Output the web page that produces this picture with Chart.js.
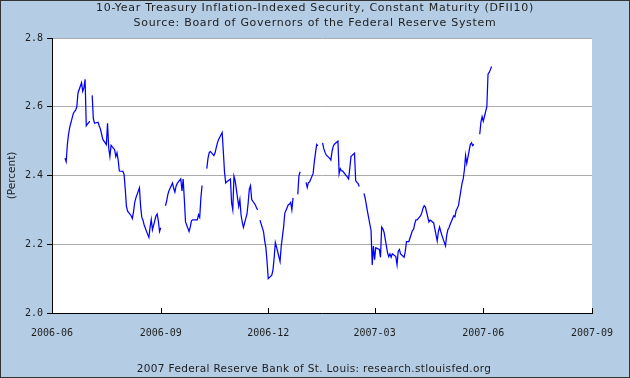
<!DOCTYPE html>
<html>
<head>
<meta charset="utf-8">
<script src="https://cdn.jsdelivr.net/npm/chart.js@4.4.0/dist/chart.umd.min.js"></script>
<style>
html, body { margin: 0; padding: 0; background: #B4CCE4; }
canvas { display: block; }
</style>
</head>
<body>
<canvas id="c" width="630" height="378"></canvas>
<script>
// ---------- data ----------
const titleLines = [
  '10-Year Treasury Inflation-Indexed Security, Constant Maturity (DFII10)',
  'Source: Board of Governors of the Federal Reserve System'
];
const footerText = '2007 Federal Reserve Bank of St. Louis: research.stlouisfed.org';
const yAxisLabel = '(Percent)';
const tickLabels = ['2006-06', '2006-09', '2006-12', '2007-03', '2007-06', '2007-09'];
const yTicks = [2.0, 2.2, 2.4, 2.6, 2.8];
const firstBusinessDay = '2006-06-12';
// one value per business day (Mon-Fri) from firstBusinessDay; null = no observation
const values = [
  2.45, 2.44, 2.49, 2.52, 2.54,
  2.58, 2.586, 2.59, 2.60, 2.64,
  2.67, 2.645, 2.655, 2.68, 2.545,
  2.558, null, 2.633, 2.565, 2.552,
  2.555, 2.544, 2.535, 2.52, 2.505,
  2.49, 2.552, 2.48, 2.455, 2.488,
  2.475, 2.455, 2.466, 2.445, 2.413,
  2.412, 2.403, 2.36, 2.31, 2.296,
  2.283, 2.275, 2.295, 2.322, 2.335,
  2.364, 2.31, 2.278, 2.27, 2.256,
  2.228, 2.22, 2.25, 2.272, 2.242,
  2.282, 2.288, 2.268, 2.237, 2.248,
  null, 2.312, 2.325, 2.344, 2.356,
  2.378, 2.362, 2.352, 2.369, 2.377,
  2.39, 2.355, 2.39, 2.33, 2.265,
  2.237, 2.25, 2.268, 2.271, 2.271,
  2.271, 2.286, 2.278, 2.335, 2.371,
  null, 2.42, 2.45, 2.466, 2.47,
  2.458, 2.466, 2.481, 2.495, 2.505,
  2.525, 2.47, 2.41, 2.378, 2.382,
  2.39, 2.32, 2.30, 2.398, 2.385,
  2.31, 2.33, 2.285, 2.264, 2.249,
  2.288, 2.32, 2.36, 2.37, 2.33,
  2.315, 2.307, 2.30, null, 2.27,
  2.237, 2.21, 2.19, 2.15, 2.10,
  2.11, 2.125, 2.16, 2.205, 2.192,
  2.15, 2.195, 2.222, 2.25, 2.29,
  2.315, 2.317, 2.322, 2.30, 2.335,
  null, 2.345, 2.40, 2.411, null,
  null, 2.38, 2.365, 2.38, 2.381,
  2.406, 2.44, 2.466, 2.49, 2.486,
  null, 2.495, 2.478, 2.468, 2.46,
  2.45, 2.445, 2.47, 2.485, 2.491,
  2.50, 2.405, 2.42, 2.414, 2.413,
  2.40, 2.395, 2.39, 2.42, 2.455,
  2.465, 2.385, 2.38, 2.377, 2.368,
  null, 2.348, 2.335, 2.315, 2.295,
  2.24, 2.14, 2.195, 2.155, 2.19,
  2.185, 2.162, 2.25, 2.245, 2.235,
  2.175, 2.164, 2.172, 2.162, 2.172,
  2.164, 2.14, 2.18, 2.185, 2.172,
  2.162, 2.18, 2.208, 2.208, 2.208,
  2.24, 2.243, 2.26, 2.271, 2.271,
  2.283, 2.292, 2.305, 2.312, 2.308,
  2.265, 2.27, 2.268, 2.265, 2.262,
  2.21, 2.237, 2.25, 2.237, 2.226,
  2.195, 2.225, 2.242, 2.248, 2.258,
  2.283, 2.28, 2.298, 2.305, 2.313,
  2.377, 2.39, 2.416, 2.458, 2.435,
  2.49, 2.495, 2.487, 2.491, null,
  null, 2.52, 2.555, 2.571, 2.558,
  2.60, 2.695, 2.70, 2.708, 2.717
];

// ---------- build series ----------
const DAY = 86400000;
function parseDate(s) { const p = s.split('-').map(Number); return Date.UTC(p[0], p[1] - 1, p[2] || 1); }
const origin = parseDate(tickLabels[0]);
const tickDays = tickLabels.map(s => (parseDate(s) - origin) / DAY);
const points = [];
for (let t = parseDate(firstBusinessDay), i = 0; i < values.length; t += DAY) {
  const wd = new Date(t).getUTCDay();
  if (wd === 0 || wd === 6) continue;
  points.push({ x: (t - origin) / DAY, y: values[i] });
  i++;
}

const BG = '#B4CCE4';
const TEXT = '#1e1e1e';

const decor = {
  id: 'decor',
  beforeDraw(chart) {
    const { ctx, chartArea: a } = chart;
    ctx.save();
    ctx.fillStyle = BG;
    ctx.fillRect(0, 0, chart.width, chart.height);
    ctx.fillStyle = '#FFFFFF';
    ctx.fillRect(a.left, a.top, a.right - a.left, a.bottom - a.top);
    ctx.restore();
  },
  afterDraw(chart) {
    const { ctx, chartArea: a } = chart;
    const xs = chart.scales.x;
    ctx.save();
    // inward tick marks on the time axis
    ctx.strokeStyle = '#000';
    ctx.lineWidth = 1;
    ctx.beginPath();
    tickDays.forEach(v => {
      const px = Math.round(xs.getPixelForValue(v)) + 0.5;
      ctx.moveTo(px, a.bottom);
      ctx.lineTo(px, a.bottom - 5);
    });
    ctx.stroke();
    // titles
    ctx.fillStyle = TEXT;
    ctx.textAlign = 'center';
    ctx.textBaseline = 'middle';
    ctx.font = '11px "DejaVu Sans"';
    if ('letterSpacing' in ctx) ctx.letterSpacing = '0.7px';
    ctx.fillText(titleLines[0], chart.width / 2, 8.5);
    ctx.fillText(titleLines[1], chart.width / 2, 23.5);
    ctx.font = '10.5px "DejaVu Sans"';
    if ('letterSpacing' in ctx) ctx.letterSpacing = '0.35px';
    ctx.fillText(footerText, chart.width / 2 - 1, 369);
    if ('letterSpacing' in ctx) ctx.letterSpacing = '0px';
    // outer frame
    ctx.strokeStyle = '#333';
    ctx.strokeRect(0.5, 0.5, chart.width - 1, chart.height - 1);
    ctx.restore();
  }
};

new Chart(document.getElementById('c'), {
  type: 'line',
  data: {
    datasets: [{
      data: points,
      borderColor: '#0000FF',
      borderWidth: 1.25,
      pointRadius: 0,
      spanGaps: false,
      tension: 0,
      fill: false
    }]
  },
  options: {
    responsive: false,
    animation: false,
    devicePixelRatio: 1,
    layout: { padding: { left: 0, right: 38, top: 38, bottom: 0 } },
    plugins: { legend: { display: false }, tooltip: { enabled: false }, title: { display: false } },
    scales: {
      x: {
        type: 'linear',
        min: tickDays[0],
        max: tickDays[tickDays.length - 1],
        afterBuildTicks: s => { s.ticks = tickDays.map(v => ({ value: v })); },
        ticks: {
          autoSkip: false, maxRotation: 0, padding: 6,
          font: { family: 'DejaVu Sans Mono', size: 10 }, color: TEXT,
          callback: (v, i) => tickLabels[i]
        },
        grid: { display: false },
        border: { display: true, color: '#000', width: 1 },
        afterFit: s => { s.height = 65; }
      },
      y: {
        min: yTicks[0],
        max: yTicks[yTicks.length - 1],
        afterBuildTicks: s => { s.ticks = yTicks.map(v => ({ value: v })); },
        ticks: {
          padding: 4,
          font: { family: 'DejaVu Sans Mono', size: 10 }, color: TEXT,
          callback: v => Number(v).toFixed(1)
        },
        grid: { color: '#ABABAB', tickColor: '#000', tickLength: 5, lineWidth: 1 },
        border: { display: true, color: '#000', width: 1 },
        title: {
          display: true, text: yAxisLabel, color: TEXT,
          font: { family: 'DejaVu Sans', size: 10.5 }, padding: { top: 6, bottom: 0 }
        },
        afterFit: s => { s.width = 52; }
      }
    }
  },
  plugins: [decor]
});
</script>
</body>
</html>
